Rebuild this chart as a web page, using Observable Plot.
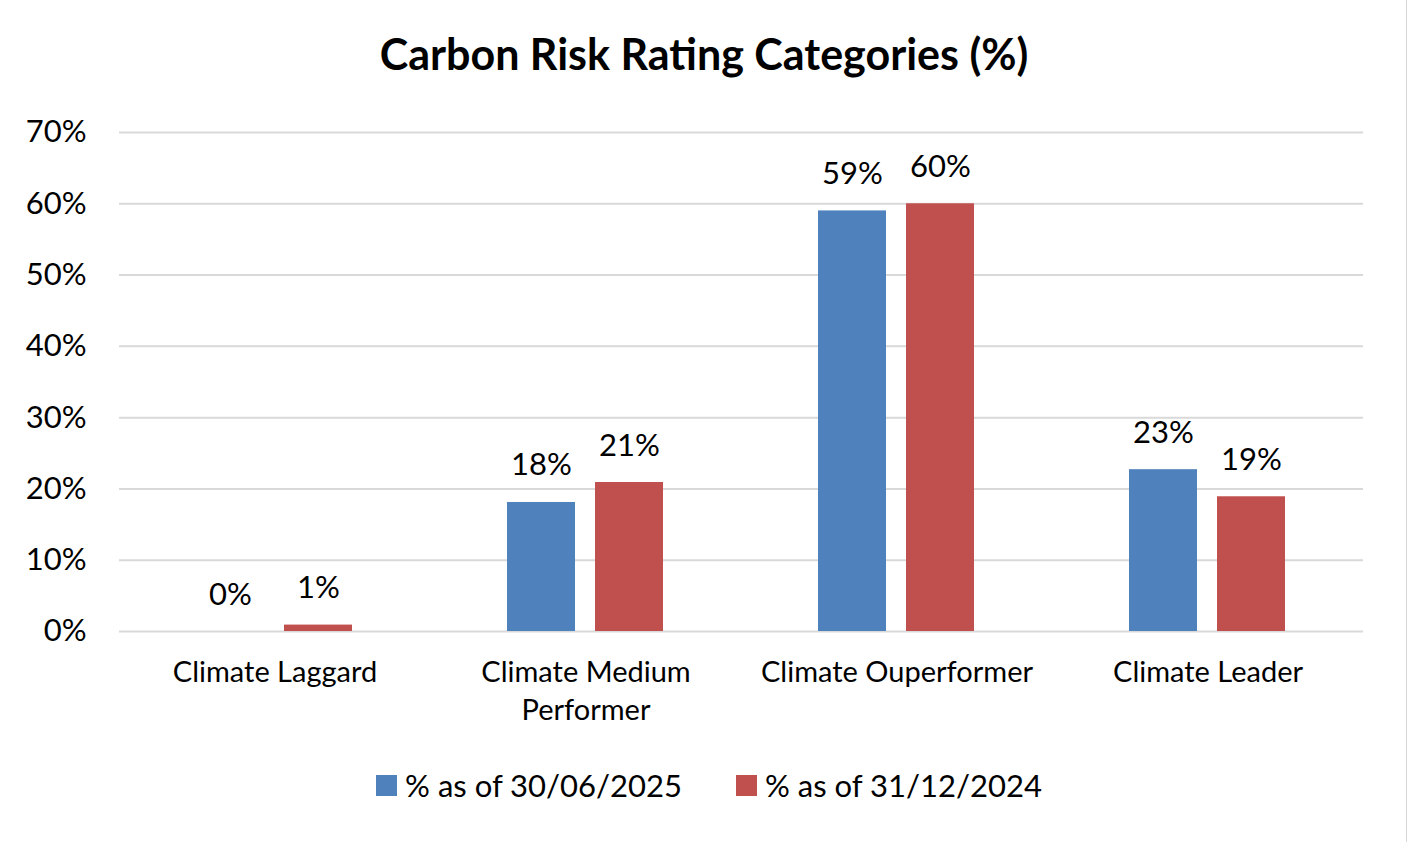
<!DOCTYPE html>
<html>
<head>
<meta charset="utf-8">
<script src="https://cdn.jsdelivr.net/npm/d3@7"></script>
<script src="https://cdn.jsdelivr.net/npm/@observablehq/plot@0.6"></script>
<style>
  html, body { margin: 0; padding: 0; background: #fff; overflow: hidden; }
  body { font-family: Lato, "Open Sans", sans-serif; color: #000; }
  #wrap { position: relative; width: 1408px; height: 842px; }
  #edge { position: absolute; left: 1406px; top: 0; width: 1px; height: 842px; background: #d6d6d6; }
  #title { position: absolute; left: 0; width: 1408px; top: 28px; text-align: center; font-weight: 700; font-size: 43px; line-height: 52px; }
  #chart { position: absolute; left: 0; top: 100px; width: 1408px; }
  #legend { position: absolute; left: 10px; width: 1398px; top: 764px; display: flex; justify-content: center; gap: 54px; font-size: 31px; line-height: 42px; }
  .item { display: flex; align-items: center; gap: 8px; }
  .sw { width: 21px; height: 21px; display: inline-block; }
</style>
</head>
<body>
<div id="wrap">
  <div id="title">Carbon Risk Rating Categories (%)</div>
  <div id="chart"></div>
  <div id="legend"></div>
  <div id="edge"></div>
</div>
<script>
const categories = ["Climate Laggard", "Climate Medium Performer", "Climate Ouperformer", "Climate Leader"];
const categoryLabels = ["Climate Laggard", "Climate Medium\nPerformer", "Climate Ouperformer", "Climate Leader"];
const seriesNames = ["% as of 30/06/2025", "% as of 31/12/2024"];
const series2025 = [0.0, 18.1, 59.0, 22.7];
const series2024 = [0.9, 20.9, 60.0, 18.9];
const seriesColors = ["#4F81BD", "#C0504D"];
const yTicks = [0, 10, 20, 30, 40, 50, 60, 70];

const data = [];
categories.forEach((c, i) => {
  data.push({category: c, series: seriesNames[0], value: series2025[i]});
  data.push({category: c, series: seriesNames[1], value: series2024[i]});
});

const font = "Lato, 'Open Sans', sans-serif";

const chart = Plot.plot({
  width: 1408,
  height: 640,
  marginLeft: 117,
  marginRight: 44,
  marginTop: 32,
  marginBottom: 109,
  style: {fontFamily: font, background: "transparent", color: "#000", maxWidth: "none"},
  fx: {domain: categories, padding: 0, label: null},
  x: {domain: seriesNames, paddingInner: 0.2247, paddingOuter: 0.862, axis: null},
  y: {domain: [0, 70], label: null},
  color: {domain: seriesNames, range: seriesColors},
  marks: [
    Plot.gridY(yTicks, {stroke: "#d9d9d9", strokeOpacity: 1, strokeWidth: 2}),
    Plot.barY(data, {fx: "category", x: "series", y: "value", fill: "series"}),
    Plot.text(data, {
      fx: "category", x: "series", y: "value",
      text: d => Math.round(d.value) + "%",
      lineAnchor: "bottom", dy: -27, fontSize: 31, fill: "#000"
    }),
    Plot.axisY(yTicks, {
      tickSize: 0, tickPadding: 33, fontSize: 31,
      tickFormat: d => d + "%", label: null
    }),
    Plot.axisFx({
      anchor: "bottom", tickSize: 0, tickPadding: 24, fontSize: 29, lineHeight: 1.3,
      tickFormat: d => categoryLabels[categories.indexOf(d)], label: null
    })
  ]
});
document.getElementById("chart").appendChild(chart);

const legend = document.getElementById("legend");
seriesNames.forEach((s, i) => {
  const item = document.createElement("div");
  item.className = "item";
  const sw = document.createElement("span");
  sw.className = "sw";
  sw.style.background = seriesColors[i];
  const t = document.createElement("span");
  t.textContent = s;
  item.appendChild(sw);
  item.appendChild(t);
  legend.appendChild(item);
});
</script>
</body>
</html>
